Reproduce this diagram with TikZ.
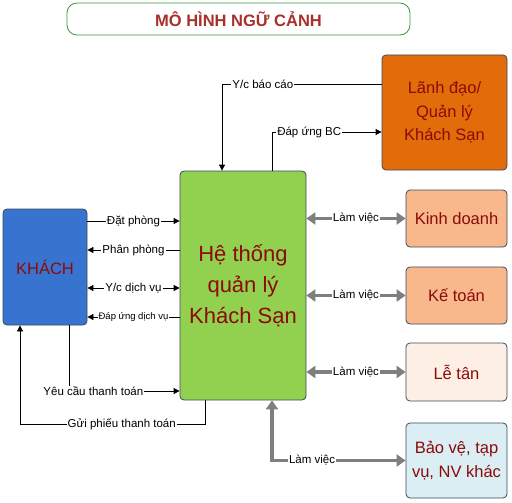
\documentclass[tikz,border=0pt]{standalone}
\usepackage{fontspec}
\setmainfont{Liberation Sans}
\usetikzlibrary{arrows.meta,calc}
\definecolor{txtred}{HTML}{8B0A0A}
\definecolor{titred}{HTML}{A8302A}
\definecolor{titgreen}{HTML}{3A9A3A}
\definecolor{mainfill}{HTML}{92D050}
\definecolor{khfill}{HTML}{3874CF}
\definecolor{ldfill}{HTML}{E26B0A}
\definecolor{kdfill}{HTML}{F8B88B}
\definecolor{ltfill}{HTML}{FDEFE3}
\definecolor{bvfill}{HTML}{DAEEF3}
\definecolor{bord}{HTML}{3A4A5C}
\definecolor{garrow}{HTML}{7F7F7F}
\tikzset{
  box/.style={draw=bord, line width=0.8pt, rounded corners=4pt, text=txtred, align=center, inner sep=0pt},
  lbl/.style={fill=white, inner sep=1pt, text=black, font=\fontsize{11.5}{13}\selectfont},
  slbl/.style={fill=white, inner sep=1pt, text=black, font=\fontsize{9.5}{11}\selectfont},
  arr/.style={draw=black, line width=0.8pt, -{Triangle[length=6pt,width=6pt]}},
  darr/.style={draw=black, line width=0.8pt, {Triangle[length=6pt,width=6pt]}-{Triangle[length=6pt,width=6pt]}},
  garr/.style={draw=garrow, line width=3.5pt, {Triangle[length=9pt,width=12pt]}-{Triangle[length=9pt,width=12pt]}},
}
\begin{document}
\begin{tikzpicture}[x=1pt,y=-1pt]
\useasboundingbox[fill=white] (0,0) rectangle (512,503);
% title
\node[draw=titgreen, line width=0.8pt, rounded corners=10pt, fill=white, minimum width=343pt, minimum height=32pt, text=titred, font=\fontsize{16.5}{18}\selectfont\bfseries] (title) at (238.5,19) {MÔ HÌNH NGỮ CẢNH};
% boxes
\node[box, fill=mainfill, minimum width=126pt, minimum height=229pt, font=\fontsize{22}{31}\selectfont] (main) at (243,285.5) {Hệ thống\\quản lý\\Khách Sạn};
\node[box, fill=khfill, minimum width=84pt, minimum height=116pt, font=\fontsize{16.5}{20}\selectfont] (khach) at (45,267) {KHÁCH};
\node[box, fill=ldfill, minimum width=125pt, minimum height=115pt, font=\fontsize{16.5}{23.5}\selectfont] (lead) at (444.5,112.5) {Lãnh đạo/\\Quản lý\\Khách Sạn};
\node[box, fill=kdfill, minimum width=101pt, minimum height=57pt, font=\fontsize{16.5}{20}\selectfont] (kd) at (456.5,218.5) {Kinh doanh};
\node[box, fill=kdfill, minimum width=101pt, minimum height=57pt, font=\fontsize{16.5}{20}\selectfont] (kt) at (456.5,295.5) {Kế toán};
\node[box, fill=ltfill, minimum width=101pt, minimum height=58pt, font=\fontsize{16.5}{20}\selectfont] (lt) at (456.5,372) {Lễ tân};
\node[box, fill=bvfill, minimum width=101pt, minimum height=75pt, font=\fontsize{16.5}{24}\selectfont] (bv) at (456.5,460.5) {Bảo vệ, tạp\\vụ, NV khác};
% top connectors
\draw[arr] (lead.west |- 0,84) -| node[lbl, pos=0.372] {Y/c báo cáo} (main.north -| 222,0);
\draw[arr] (main.north -| 272,0) |- node[lbl, pos=0.67] {Đáp ứng BC} (lead.west |- 0,132);
% left connectors
\draw[arr] (khach.east |- 0,221) -- node[lbl] {Đặt phòng} (main.west |- 0,221);
\draw[arr] (main.west |- 0,250) -- node[lbl] {Phân phòng} (khach.east |- 0,250);
\draw[darr] (khach.east |- 0,288) -- node[lbl] {Y/c dịch vụ} (main.west |- 0,288);
\draw[arr] (main.west |- 0,317) -- node[slbl] {Đáp ứng dịch vụ} (khach.east |- 0,317);
\draw[arr] (khach.south -| 69,0) |- node[lbl, pos=0.61] {Yêu cầu thanh toán} (main.west |- 0,391);
\coordinate (g1) at (205,424);
\coordinate (g2) at (20,424);
\draw[arr] (main.south -| 205,0) -- (g1) -- node[lbl, pos=0.45] {Gửi phiếu thanh toán} (g2) -- (khach.south -| 20,0);
% gray connectors
\draw[garr] (main.east |- kd.west) -- node[lbl] {Làm việc} (kd.west);
\draw[garr] (main.east |- kt.west) -- node[lbl] {Làm việc} (kt.west);
\draw[garr] (main.east |- lt.west) -- node[lbl] {Làm việc} (lt.west);
\draw[garr] (main.south -| 272,0) |- node[lbl, pos=0.65] {Làm việc} (bv.west);
\end{tikzpicture}
\end{document}
